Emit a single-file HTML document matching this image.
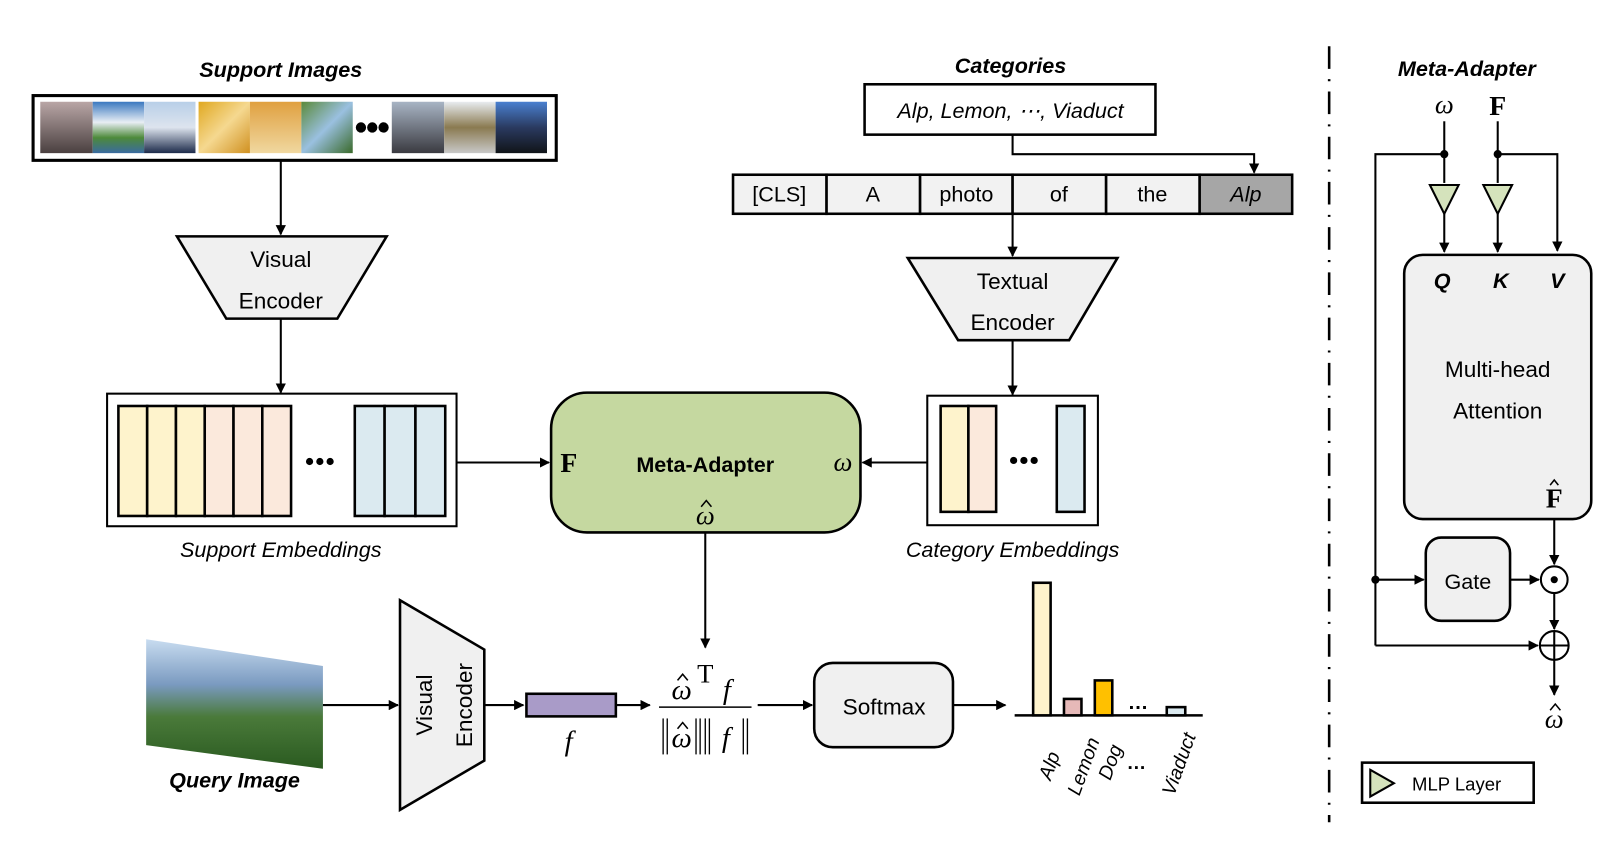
<!DOCTYPE html>
<html><head><meta charset="utf-8"><style>
html,body{margin:0;padding:0;background:#fff;}
svg{display:block;}
text{font-family:"Liberation Sans",sans-serif;}
.s{font-family:"Liberation Serif",serif;}
</style></head><body>
<svg width="1612" height="850" viewBox="0 0 1568 827" xmlns="http://www.w3.org/2000/svg">
<defs>
<marker id="a" markerWidth="10" markerHeight="10" refX="9" refY="5" orient="auto" markerUnits="userSpaceOnUse"><path d="M0,0 L10,5 L0,10 Z" fill="#000"/></marker>
<linearGradient id="m1" x1="0" y1="0" x2="0" y2="1"><stop offset="0" stop-color="#b9a6a6"/><stop offset="1" stop-color="#4a4040"/></linearGradient>
<linearGradient id="m2" x1="0" y1="0" x2="0" y2="1"><stop offset="0" stop-color="#3a78c0"/><stop offset=".4" stop-color="#e8eef4"/><stop offset=".7" stop-color="#4d8a3a"/><stop offset="1" stop-color="#3a6aa0"/></linearGradient>
<linearGradient id="m3" x1="0" y1="0" x2="0" y2="1"><stop offset="0" stop-color="#b8cfe8"/><stop offset=".5" stop-color="#dde4ee"/><stop offset="1" stop-color="#1c2a4a"/></linearGradient>
<linearGradient id="l1" x1="0" y1="0" x2="1" y2="1"><stop offset="0" stop-color="#e0a820"/><stop offset=".5" stop-color="#f5d890"/><stop offset="1" stop-color="#d09020"/></linearGradient>
<linearGradient id="l2" x1="0" y1="0" x2="0" y2="1"><stop offset="0" stop-color="#e0a040"/><stop offset="1" stop-color="#f0d8a0"/></linearGradient>
<linearGradient id="l3" x1="0" y1="0" x2="1" y2="1"><stop offset="0" stop-color="#5a8a3a"/><stop offset=".5" stop-color="#9ac0e0"/><stop offset="1" stop-color="#3a6a2a"/></linearGradient>
<linearGradient id="v1" x1="0" y1="0" x2="0" y2="1"><stop offset="0" stop-color="#a8b4c4"/><stop offset="1" stop-color="#3a3a40"/></linearGradient>
<linearGradient id="v2" x1="0" y1="0" x2="0" y2="1"><stop offset="0" stop-color="#e8ecf0"/><stop offset=".5" stop-color="#8a7a50"/><stop offset="1" stop-color="#c8c8c8"/></linearGradient>
<linearGradient id="v3" x1="0" y1="0" x2="0" y2="1"><stop offset="0" stop-color="#4a80d0"/><stop offset=".5" stop-color="#2a3a60"/><stop offset="1" stop-color="#101418"/></linearGradient>
<linearGradient id="q" x1="0" y1="0" x2="0" y2="1"><stop offset="0" stop-color="#c8dcf0"/><stop offset=".35" stop-color="#7a9ac0"/><stop offset=".6" stop-color="#4a7a3a"/><stop offset="1" stop-color="#2a5a20"/></linearGradient>
</defs>
<g stroke="#000" stroke-width="2" fill="none">
<text x="273" y="75" font-size="21" font-weight="bold" font-style="italic" text-anchor="middle" fill="#000" stroke="none">Support Images</text>
<rect x="32" y="93" width="509" height="63" stroke-width="3"/>
<rect x="39" y="99" width="51" height="50" fill="url(#m1)" stroke="none"/>
<rect x="90" y="99" width="50" height="50" fill="url(#m2)" stroke="none"/>
<rect x="140" y="99" width="50" height="50" fill="url(#m3)" stroke="none"/>
<rect x="193" y="99" width="50" height="50" fill="url(#l1)" stroke="none"/>
<rect x="243" y="99" width="50" height="50" fill="url(#l2)" stroke="none"/>
<rect x="293" y="99" width="50" height="50" fill="url(#l3)" stroke="none"/>
<g fill="#000" stroke="none"><circle cx="351" cy="124" r="5"/><circle cx="362" cy="124" r="5"/><circle cx="373" cy="124" r="5"/></g>
<rect x="381" y="99" width="51" height="50" fill="url(#v1)" stroke="none"/>
<rect x="432" y="99" width="50" height="50" fill="url(#v2)" stroke="none"/>
<rect x="482" y="99" width="50" height="50" fill="url(#v3)" stroke="none"/>
<line x1="273" y1="156" x2="273" y2="228" marker-end="url(#a)"/>
<polygon points="172,230 376,230 328,310 220,310" fill="#f0f0f0" stroke-width="2.5"/>
<g fill="#000" stroke="none" font-size="22" text-anchor="middle"><text x="273" y="260">Visual</text><text x="273" y="300">Encoder</text></g>
<line x1="273" y1="310" x2="273" y2="382" marker-end="url(#a)"/>
<rect x="104" y="383" width="340" height="129"/>
<g stroke-width="2.5">
<rect x="115" y="395" width="28" height="107" fill="#fef3cc"/><rect x="143" y="395" width="28" height="107" fill="#fef3cc"/><rect x="171" y="395" width="28" height="107" fill="#fef3cc"/>
<rect x="199" y="395" width="28" height="107" fill="#fbe9dc"/><rect x="227" y="395" width="28" height="107" fill="#fbe9dc"/><rect x="255" y="395" width="28" height="107" fill="#fbe9dc"/>
<rect x="345" y="395" width="29" height="107" fill="#dbeaf0"/><rect x="374" y="395" width="30" height="107" fill="#dbeaf0"/><rect x="404" y="395" width="29" height="107" fill="#dbeaf0"/>
</g>
<g fill="#000" stroke="none"><circle cx="301" cy="449" r="3.5"/><circle cx="311" cy="449" r="3.5"/><circle cx="321" cy="449" r="3.5"/></g>
<text x="273" y="542" font-size="21" font-style="italic" text-anchor="middle" fill="#000" stroke="none">Support Embeddings</text>
<line x1="444" y1="450" x2="534" y2="450" marker-end="url(#a)"/>
<rect x="536" y="382" width="301" height="136" rx="35" fill="#c5d8a0" stroke-width="2.5"/>
<text x="545" y="459" class="s" font-size="27" font-weight="bold" fill="#000" stroke="none">F</text>
<text x="686" y="459" font-size="21" font-weight="bold" text-anchor="middle" fill="#000" stroke="none">Meta-Adapter</text>
<text x="820" y="458" class="s" font-size="26" font-style="italic" text-anchor="middle" fill="#000" stroke="none">ω</text>
<text x="686" y="510" class="s" font-size="26" font-style="italic" text-anchor="middle" fill="#000" stroke="none">ω</text>
<path d="M682,493 L687,487 L692,493" stroke-width="1.5"/>
<line x1="686" y1="518" x2="686" y2="630" marker-end="url(#a)"/>
<text x="983" y="71" font-size="21" font-weight="bold" font-style="italic" text-anchor="middle" fill="#000" stroke="none">Categories</text>
<rect x="841" y="82" width="283" height="49" stroke-width="2.5"/>
<text x="983" y="115" font-size="21" font-style="italic" text-anchor="middle" fill="#000" stroke="none">Alp, Lemon, ⋯, Viaduct</text>
<polyline points="985,131 985,150 1220,150 1220,168" marker-end="url(#a)"/>
<g stroke-width="2.5">
<rect x="713" y="170" width="91" height="38" fill="#f2f2f2"/><rect x="804" y="170" width="91" height="38" fill="#f2f2f2"/><rect x="895" y="170" width="90" height="38" fill="#f2f2f2"/><rect x="985" y="170" width="91" height="38" fill="#f2f2f2"/><rect x="1076" y="170" width="91" height="38" fill="#f2f2f2"/><rect x="1167" y="170" width="90" height="38" fill="#a6a6a6"/>
</g>
<g fill="#000" stroke="none" font-size="21" text-anchor="middle">
<text x="758" y="196">[CLS]</text><text x="849" y="196">A</text><text x="940" y="196">photo</text><text x="1030" y="196">of</text><text x="1121" y="196">the</text><text x="1212" y="196" font-style="italic">Alp</text></g>
<line x1="985" y1="208" x2="985" y2="249" marker-end="url(#a)"/>
<polygon points="883,251 1087,251 1040,331 932,331" fill="#f0f0f0" stroke-width="2.5"/>
<g fill="#000" stroke="none" font-size="22" text-anchor="middle"><text x="985" y="281">Textual</text><text x="985" y="321">Encoder</text></g>
<line x1="985" y1="331" x2="985" y2="384" marker-end="url(#a)"/>
<rect x="902" y="385" width="166" height="126"/>
<g stroke-width="2.5"><rect x="915" y="395" width="27" height="103" fill="#fef3cc"/><rect x="942" y="395" width="27" height="103" fill="#fbe9dc"/><rect x="1028" y="395" width="27" height="103" fill="#dbeaf0"/></g>
<g fill="#000" stroke="none"><circle cx="986" cy="448" r="3.5"/><circle cx="996" cy="448" r="3.5"/><circle cx="1006" cy="448" r="3.5"/></g>
<line x1="902" y1="450" x2="839" y2="450" marker-end="url(#a)"/>
<text x="985" y="542" font-size="21" font-style="italic" text-anchor="middle" fill="#000" stroke="none">Category Embeddings</text>
<polygon points="142,622 314,648 314,748 142,725" fill="url(#q)" stroke="none"/>
<text x="228" y="766" font-size="21" font-weight="bold" font-style="italic" text-anchor="middle" fill="#000" stroke="none">Query Image</text>
<line x1="314" y1="686" x2="387" y2="686" marker-end="url(#a)"/>
<polygon points="389,584 471,632 471,740 389,788" fill="#f0f0f0" stroke-width="2.5"/>
<g fill="#000" stroke="none" font-size="22" text-anchor="middle">
<text transform="translate(420,686) rotate(-90)">Visual</text><text transform="translate(459,686) rotate(-90)">Encoder</text></g>
<line x1="471" y1="686" x2="509" y2="686" marker-end="url(#a)"/>
<rect x="512" y="675" width="87" height="22" fill="#a99bc8" stroke-width="2.5"/>
<text x="553" y="730" class="s" font-size="28" font-style="italic" text-anchor="middle" fill="#000" stroke="none">f</text>
<line x1="599" y1="686" x2="632" y2="686" marker-end="url(#a)"/>
<!-- formula -->
<text x="663" y="680" class="s" font-size="28" font-style="italic" text-anchor="middle" fill="#000" stroke="none">ω</text>
<path d="M659,662 L664,656 L669,662" stroke-width="1.5"/>
<text x="686" y="664" class="s" font-size="26" text-anchor="middle" fill="#000" stroke="none">T</text>
<text x="707" y="680" class="s" font-size="28" font-style="italic" text-anchor="middle" fill="#000" stroke="none">f</text>
<line x1="641" y1="688" x2="731" y2="688" stroke-width="1.5"/>
<g stroke-width="1.3">
<line x1="645" y1="699" x2="645" y2="734"/><line x1="649" y1="699" x2="649" y2="734"/>
<line x1="677" y1="699" x2="677" y2="734"/><line x1="681" y1="699" x2="681" y2="734"/>
<line x1="686" y1="699" x2="686" y2="734"/><line x1="690" y1="699" x2="690" y2="734"/>
<line x1="723" y1="699" x2="723" y2="734"/><line x1="727" y1="699" x2="727" y2="734"/></g>
<text x="663" y="727" class="s" font-size="28" font-style="italic" text-anchor="middle" fill="#000" stroke="none">ω</text>
<path d="M659,709 L664,703 L669,709" stroke-width="1.5"/>
<text x="706" y="727" class="s" font-size="28" font-style="italic" text-anchor="middle" fill="#000" stroke="none">f</text>
<line x1="737" y1="686" x2="790" y2="686" marker-end="url(#a)"/>
<rect x="792" y="645" width="135" height="82" rx="18" fill="#f0f0f0" stroke-width="2.5"/>
<text x="860" y="695" font-size="22" text-anchor="middle" fill="#000" stroke="none">Softmax</text>
<line x1="927" y1="686" x2="978" y2="686" marker-end="url(#a)"/>
<line x1="987" y1="696" x2="1170" y2="696" stroke-width="2.5"/>
<g stroke-width="2.5">
<rect x="1005" y="567" width="17" height="129" fill="#fef3cc"/>
<rect x="1035" y="680" width="17" height="16" fill="#e6b9b8"/>
<rect x="1065" y="662" width="17" height="34" fill="#ffc000"/>
<rect x="1135" y="688" width="18" height="8" fill="#dbeaf0"/></g>
<text x="1107" y="690" font-size="20" font-weight="bold" text-anchor="middle" fill="#000" stroke="none">…</text>
<g fill="#000" stroke="none" font-size="19" font-style="italic">
<text transform="translate(1022,760) rotate(-70)">Alp</text>
<text transform="translate(1050,775) rotate(-70)">Lemon</text>
<text transform="translate(1080,760) rotate(-70)">Dog</text>
<text x="1096" y="748" font-style="normal" font-weight="bold">…</text>
<text transform="translate(1142,775) rotate(-70)">Viaduct</text></g>
<line x1="1293" y1="45" x2="1293" y2="800" stroke-width="2.5" stroke-dasharray="22,10,2,10"/>
<text x="1427" y="74" font-size="21" font-weight="bold" font-style="italic" text-anchor="middle" fill="#000" stroke="none">Meta-Adapter</text>
<text x="1405" y="110" class="s" font-size="26" font-style="italic" text-anchor="middle" fill="#000" stroke="none">ω</text>
<text x="1457" y="112" class="s" font-size="27" font-weight="bold" text-anchor="middle" fill="#000" stroke="none">F</text>
<line x1="1405" y1="118" x2="1405" y2="178"/><line x1="1457" y1="118" x2="1457" y2="178"/>
<polyline points="1405,150 1338,150 1338,628"/>
<polyline points="1457,150 1515,150 1515,244" marker-end="url(#a)"/>
<circle cx="1405" cy="150" r="3" fill="#000"/><circle cx="1457" cy="150" r="3" fill="#000"/>
<polygon points="1391,180 1419,180 1405,208" fill="#d5e3bc"/>
<polygon points="1443,180 1471,180 1457,208" fill="#d5e3bc"/>
<line x1="1405" y1="208" x2="1405" y2="245" marker-end="url(#a)"/>
<line x1="1457" y1="208" x2="1457" y2="245" marker-end="url(#a)"/>
<rect x="1366" y="248" width="182" height="257" rx="18" fill="#f0f0f0" stroke-width="2.5"/>
<g fill="#000" stroke="none" font-size="21" font-weight="bold" font-style="italic" text-anchor="middle"><text x="1403" y="280">Q</text><text x="1460" y="280">K</text><text x="1515" y="280">V</text></g>
<g fill="#000" stroke="none" font-size="22" text-anchor="middle"><text x="1457" y="367">Multi-head</text><text x="1457" y="407">Attention</text></g>
<text x="1512" y="494" class="s" font-size="27" font-weight="bold" text-anchor="middle" fill="#000" stroke="none">F</text>
<path d="M1508,472 L1512,467 L1516,472" stroke-width="1.5"/>
<line x1="1512" y1="505" x2="1512" y2="549" marker-end="url(#a)"/>
<circle cx="1512" cy="564" r="13" fill="#fff"/><circle cx="1512" cy="564" r="2.5" fill="#000"/>
<rect x="1387" y="523" width="82" height="81" rx="15" fill="#f0f0f0" stroke-width="2.5"/>
<text x="1428" y="573" font-size="21" text-anchor="middle" fill="#000" stroke="none">Gate</text>
<line x1="1338" y1="564" x2="1385" y2="564" marker-end="url(#a)"/><circle cx="1338" cy="564" r="3" fill="#000"/>
<line x1="1469" y1="564" x2="1497" y2="564" marker-end="url(#a)"/>
<line x1="1512" y1="577" x2="1512" y2="612" marker-end="url(#a)"/>
<circle cx="1512" cy="628" r="14" fill="#fff"/><line x1="1498" y1="628" x2="1526" y2="628"/><line x1="1512" y1="614" x2="1512" y2="642"/>
<line x1="1338" y1="628" x2="1496" y2="628" marker-end="url(#a)"/>
<line x1="1512" y1="642" x2="1512" y2="676" marker-end="url(#a)"/>
<text x="1512" y="708" class="s" font-size="26" font-style="italic" text-anchor="middle" fill="#000" stroke="none">ω</text>
<path d="M1508,691 L1513,685 L1518,691" stroke-width="1.5"/>
<rect x="1325" y="742" width="167" height="39" stroke-width="2.5"/>
<polygon points="1333,749 1356,762 1333,775" fill="#d5e3bc"/>
<text x="1417" y="769" font-size="18" text-anchor="middle" fill="#000" stroke="none">MLP Layer</text>
</g>
</svg>
</body></html>
